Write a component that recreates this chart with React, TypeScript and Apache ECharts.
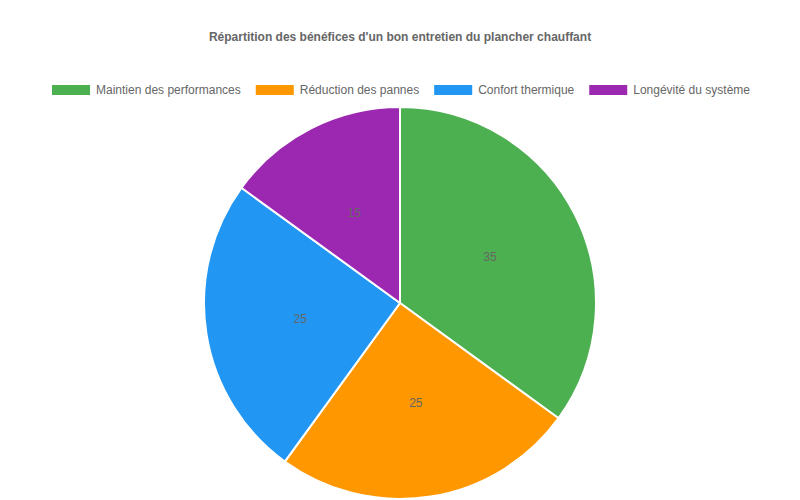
import * as echarts from 'echarts';
import { useEffect, useRef } from 'react';

const categories = [
  'Maintien des performances',
  'Réduction des pannes',
  'Confort thermique',
  'Longévité du système',
];
const values = [35, 25, 25, 15];
const colors = ['#4CAF50', '#FF9800', '#2196F3', '#9C27B0'];

const App = () => {
  const chartRef = useRef<HTMLDivElement>(null);

  useEffect(() => {
    if (!chartRef.current) return;

    const chart = echarts.init(chartRef.current, undefined, { renderer: 'svg' });

    const option = {
      animation: false,
      color: colors,
      legend: {
        data: categories,
        icon: 'rect',
        itemGap: 13,
        itemHeight: 12,
        itemWidth: 40,
        textStyle: {
          color: '#666666',
          fontFamily: 'Liberation Sans, Arial, sans-serif',
          fontSize: 12,
        },
        top: 78,
      },
      series: [
        {
          center: [400, 303],
          data: categories.map((name, i) => ({ name, value: values[i] })),
          itemStyle: {
            borderColor: '#ffffff',
            borderWidth: 2,
          },
          label: {
            color: '#666666',
            fontFamily: 'Liberation Sans, Arial, sans-serif',
            fontSize: 12,
            formatter: '{c}',
            position: 'inside',
          },
          labelLine: { show: false },
          radius: [0, 196],
          startAngle: 90,
          type: 'pie',
        },
      ],
      title: {
        left: 'center',
        text: "Répartition des bénéfices d'un bon entretien du plancher chauffant",
        textStyle: {
          color: '#666666',
          fontFamily: 'Liberation Sans, Arial, sans-serif',
          fontSize: 12,
          fontWeight: 'bold',
        },
        top: 26,
      },
    };

    chart.setOption(option);

    const handleResize = () => {
      chart.resize();
    };

    window.addEventListener('resize', handleResize);

    // eslint-disable-next-line consistent-return
    return () => {
      window.removeEventListener('resize', handleResize);
      chart.dispose();
    };
  }, []);

  return <div ref={chartRef} style={{ height: 500, left: 0, position: 'absolute', top: 0, width: 800 }} />;
};

export default App;
